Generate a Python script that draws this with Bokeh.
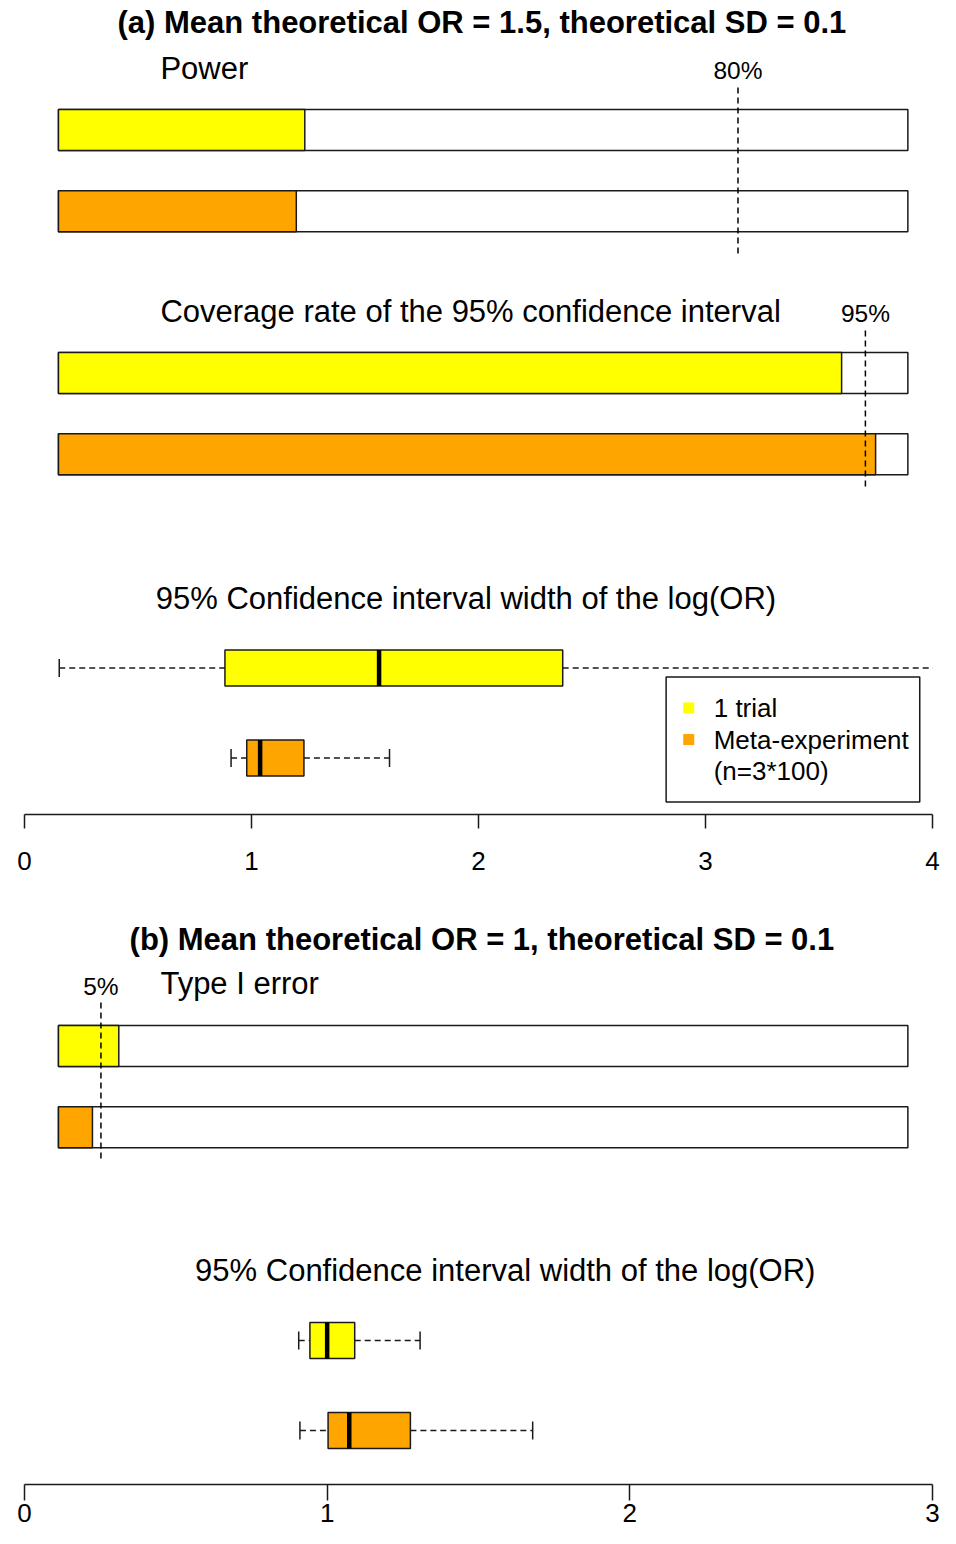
from bokeh.plotting import figure
from bokeh.layouts import column
from bokeh.models import Range1d, FixedTicker
from bokeh.core.properties import value
from bokeh.embed import file_html
from bokeh.resources import INLINE

# ---------------- data ----------------
groups = ["1 trial", "Meta-experiment\n(n=3*100)"]
colors = ["#FFFF00", "#FFA500"]

# percentages (panel a)
power_a = [29.0, 28.0]
coverage_a = [92.2, 96.2]
power_target = 80
coverage_target = 95
# percentages (panel b)
type1_b = [7.1, 4.0]
type1_target = 5

# boxplot stats of the 95% CI width of log(OR)
ciw_a_low = [0.153, 0.910]
ciw_a_q1 = [0.883, 0.979]
ciw_a_med = [1.562, 1.038]
ciw_a_q3 = [2.371, 1.231]
ciw_a_high = [4.60, 1.608]

ciw_b_low = [0.906, 0.910]
ciw_b_q1 = [0.943, 1.003]
ciw_b_med = [1.000, 1.073]
ciw_b_q3 = [1.091, 1.275]
ciw_b_high = [1.307, 1.679]

ticks_a = [0, 1, 2, 3, 4]
ticks_b = [0, 1, 2, 3]

title_a = "(a) Mean theoretical OR = 1.5, theoretical SD = 0.1"
title_b = "(b) Mean theoretical OR = 1, theoretical SD = 0.1"
lab_power = "Power"
lab_cov = "Coverage rate of the 95% confidence interval"
lab_type1 = "Type I error"
lab_ciw = "95% Confidence interval width of the log(OR)"

# ---------------- style / layout ----------------
FONT = value("Liberation Sans")
BIG = "31px"
SMALL = "24.5px"
TICK = "26px"
LEG = "26px"
BAR_H = 41
BAR_GAP = 81.3
BOX_H = 36
BOX_GAP = 90
LW = 1.5
DASH = "6 4"
PCT_RANGE = (-4.0, 102.9)
FRAME_L, FRAME_R = 24, 8
W = 940
INK = "#1a1a1a"


def base_fig(height, y_top, y_bottom, xmax, ticks, bottom_border, standoff, tick_out, lh=None):
    p = figure(width=W, height=height, x_range=Range1d(0, xmax),
               y_range=Range1d(y_bottom, y_top), output_backend="svg",
               toolbar_location=None, min_border_left=FRAME_L, min_border_right=FRAME_R,
               min_border_top=0, min_border_bottom=bottom_border,
               outline_line_color=None, y_axis_location=None)
    p.extra_x_ranges = {"pct": Range1d(*PCT_RANGE)}
    p.grid.visible = False
    p.background_fill_color = "white"
    p.border_fill_color = "white"
    ax = p.xaxis[0]
    ax.ticker = FixedTicker(ticks=ticks)
    ax.minor_tick_line_color = None
    ax.major_tick_in = 0
    ax.major_tick_out = tick_out
    ax.major_tick_line_width = LW
    ax.major_tick_line_color = INK
    ax.axis_line_width = LW
    ax.axis_line_color = INK
    ax.major_label_text_font = "Liberation Sans"
    ax.major_label_text_font_size = TICK
    ax.major_label_text_color = "black"
    ax.major_label_standoff = standoff
    if lh is not None:
        ax.major_label_text_line_height = lh
    return p


def txt(p, x, y, s, size=BIG, align="left", bold=False):
    # x in percent units of the bar scale, y = visual centre of the capitals
    p.text(x=[x], y=[y], text=[s], text_font=FONT, text_font_size=size,
           text_align=align, text_baseline="alphabetic", text_color="black",
           text_font_style="bold" if bold else "normal", x_range_name="pct")


def bar_section(p, label, label_y, tgt_y, base, values, target, line_top, line_end):
    txt(p, 12, label_y, label)
    txt(p, target, tgt_y, f"{target}%", size=SMALL, align="center")
    ys = [base + i * BAR_GAP for i in range(len(values))]
    p.hbar(y=ys, height=BAR_H, left=0, right=100, fill_color="white",
           line_color=INK, line_width=LW, x_range_name="pct")
    p.hbar(y=ys, height=BAR_H, left=0, right=values, fill_color=colors,
           line_color=INK, line_width=LW, x_range_name="pct")
    p.segment(x0=[target], x1=[target], y0=[line_top], y1=[line_end],
              line_color="black", line_width=1.5, line_dash=DASH,
              x_range_name="pct")


def box_section(p, centers, low, q1, med, q3, high):
    p.segment(x0=low, x1=q1, y0=centers, y1=centers, line_color=INK,
              line_width=LW, line_dash=DASH)
    p.segment(x0=q3, x1=high, y0=centers, y1=centers, line_color=INK,
              line_width=LW, line_dash=DASH)
    for xs in (low, high):
        p.segment(x0=xs, x1=xs, y0=[c - BOX_H / 4 for c in centers],
                  y1=[c + BOX_H / 4 for c in centers], line_color=INK,
                  line_width=LW)
    p.hbar(y=centers, height=BOX_H, left=q1, right=q3, fill_color=colors,
           line_color=INK, line_width=LW)
    p.segment(x0=med, x1=med, y0=[c - BOX_H / 2 for c in centers],
              y1=[c + BOX_H / 2 for c in centers], line_color="black",
              line_width=4.5)


# ---------------- panel (a) ----------------
HA = 884
AX_A = 814
pa = base_fig(HA, 0, AX_A, 4, ticks_a, HA - AX_A, 23, 14)
txt(pa, 49.85, 22.2, title_a, align="center", bold=True)
bar_section(pa, lab_power, 67.9, 70.2, 129.5, power_a, power_target, 87, 255)
bar_section(pa, lab_cov, 310.9, 312.9, 372.5, coverage_a, coverage_target, 330, 487)
txt(pa, 47.97, 598.2, lab_ciw, align="center")
centers_a = [667.5 + i * BOX_GAP for i in range(len(groups))]
box_section(pa, centers_a, ciw_a_low, ciw_a_q1, ciw_a_med, ciw_a_q3, ciw_a_high)

# legend (drawn by hand, R style)
pa.quad(left=[71.54], right=[101.4], top=[676.5], bottom=[801.5],
        fill_color="white", line_color=INK, line_width=LW, x_range_name="pct")
line_y = 707.4
for g, c in zip(groups, colors):
    pa.scatter(x=[74.2], y=[line_y], marker="square", size=11,
               fill_color=c, line_color=None, x_range_name="pct")
    for ln in g.split("\n"):
        txt(pa, 77.14, line_y, ln, size=LEG)
        line_y += 31.65

# ---------------- panel (b) ----------------
HB = 1528 - HA
AX_B = 1484
pb = base_fig(HB, HA, AX_B, 3, ticks_b, HB - (AX_B - HA), 3, 16, lh=0.75)
txt(pb, 49.85, 938.9, title_b, align="center", bold=True)
bar_section(pb, lab_type1, 982.9, 985.5, 1045.5, type1_b, type1_target, 1002, 1158)
txt(pb, 52.6, 1269.9, lab_ciw, align="center")
centers_b = [1340 + i * BOX_GAP for i in range(len(groups))]
box_section(pb, centers_b, ciw_b_low, ciw_b_q1, ciw_b_med, ciw_b_q3, ciw_b_high)

layout = column(pa, pb, spacing=0)
open("out.html", "w").write(file_html(layout, INLINE))
